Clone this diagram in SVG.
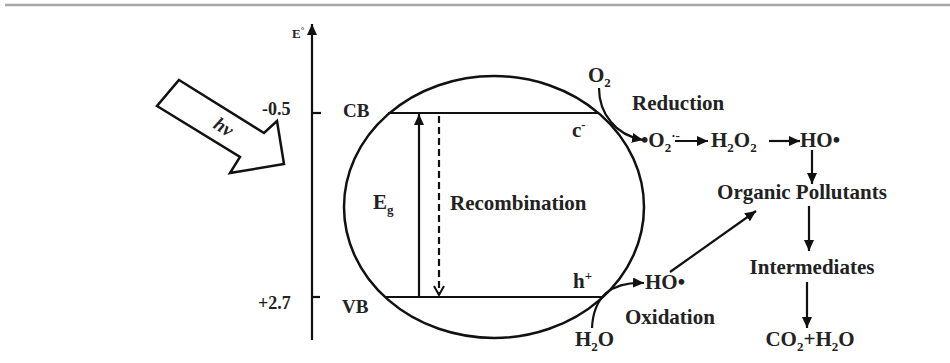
<svg xmlns="http://www.w3.org/2000/svg" width="950" height="363" viewBox="0 0 950 363">
<style>
  .t { font-family: "Liberation Serif", "Times New Roman", serif; font-weight: bold; fill: #222; }
  .lbl { font-size: 21px; }
  .sm { font-size: 18px; }
  .ln { stroke: #111; stroke-width: 2.2; fill: none; }
</style>
<defs>
  <marker id="ah" markerUnits="userSpaceOnUse" markerWidth="12" markerHeight="10" refX="11" refY="5" orient="auto">
    <path d="M0,0 L11,5 L0,10 Z" fill="#111"/>
  </marker>
  <marker id="ahv" markerUnits="userSpaceOnUse" markerWidth="12" markerHeight="12" refX="10" refY="6" orient="auto">
    <path d="M1,1 L10,6 L1,11" fill="none" stroke="#111" stroke-width="2"/>
  </marker>
</defs>
<rect width="950" height="363" fill="#fff"/>
<line x1="5" y1="5" x2="950" y2="5" stroke="#a8a8a8" stroke-width="2.5"/>

<g id="axis">
  <line class="ln" x1="312" y1="340" x2="312" y2="24" marker-end="url(#ah)"/>
  <line class="ln" x1="312" y1="113" x2="321" y2="113"/>
  <line class="ln" x1="312" y1="297" x2="320" y2="297"/>
  <text class="t" x="292" y="38" font-size="13">E<tspan dy="-5" font-size="9">°</tspan></text>
  <text class="t sm" x="262" y="115">-0.5</text>
  <text class="t sm" x="258" y="309">+2.7</text>
</g>

<g id="light">
  <polygon points="179,80 264,133 277,121 284,164 230,173 240,157 157,106" fill="#fff" stroke="#111" stroke-width="2.5" stroke-linejoin="miter"/>
  <text class="t" x="223" y="133" font-size="19" font-style="italic" font-weight="normal" text-anchor="middle" transform="rotate(32 223 128)">hv</text>
</g>

<g id="particle">
  <ellipse cx="494" cy="207" rx="150" ry="131" fill="none" stroke="#111" stroke-width="2.5"/>
</g>

<g id="CB">
  <line class="ln" x1="388" y1="113" x2="599" y2="113"/>
  <text class="t" x="343" y="117" font-size="19">CB</text>
  <text class="t lbl" x="572" y="137">c<tspan dy="-8" font-size="13">-</tspan></text>
</g>

<g id="VB">
  <line class="ln" x1="385" y1="297" x2="603" y2="297"/>
  <text class="t" x="342" y="313" font-size="19">VB</text>
  <text class="t lbl" x="573" y="288">h<tspan dy="-8" font-size="13">+</tspan></text>
</g>

<g id="Eg"><text class="t lbl" x="373" y="209">E<tspan dy="5" font-size="13">g</tspan></text></g>
<g id="recombination"><text class="t lbl" x="450" y="210">Recombination</text></g>
<g id="O2"><text class="t lbl" x="588" y="82">O<tspan dy="5" font-size="13">2</tspan></text></g>
<g id="reduction"><text class="t lbl" x="632" y="110">Reduction</text></g>
<g id="superoxide"><text class="t lbl" x="641" y="147">•O<tspan dy="5" font-size="13">2</tspan><tspan dy="-12" font-size="13">·-</tspan></text></g>
<g id="H2O2"><text class="t lbl" x="711" y="147">H<tspan dy="5" font-size="13">2</tspan><tspan dy="-5">O</tspan><tspan dy="5" font-size="13">2</tspan></text></g>
<g id="HO-red"><text class="t lbl" x="800" y="147">HO•</text></g>
<g id="organic"><text class="t lbl" x="802" y="199" text-anchor="middle">Organic Pollutants</text></g>
<g id="intermediates"><text class="t lbl" x="812" y="274" text-anchor="middle">Intermediates</text></g>
<g id="products"><text class="t lbl" x="810" y="346" text-anchor="middle">CO<tspan dy="5" font-size="13">2</tspan><tspan dy="-5">+H</tspan><tspan dy="5" font-size="13">2</tspan><tspan dy="-5">O</tspan></text></g>
<g id="HO-ox"><text class="t lbl" x="645" y="289">HO•</text></g>
<g id="oxidation"><text class="t lbl" x="625" y="324">Oxidation</text></g>
<g id="H2O"><text class="t lbl" x="575" y="346">H<tspan dy="5" font-size="13">2</tspan><tspan dy="-5">O</tspan></text></g>

<g id="connectors">
  <line class="ln" x1="419" y1="297" x2="419" y2="114" marker-end="url(#ah)"/>
  <line class="ln" x1="439" y1="116" x2="439" y2="295" stroke-dasharray="7 4" marker-end="url(#ahv)"/>
  <path class="ln" d="M599,88 Q599,108 611,122 Q622,136 643,140" marker-end="url(#ah)"/>
  <line class="ln" x1="675" y1="141" x2="708" y2="141" marker-end="url(#ah)"/>
  <line class="ln" x1="769" y1="141" x2="800" y2="141" marker-end="url(#ah)"/>
  <line class="ln" x1="812" y1="150" x2="812" y2="184" marker-end="url(#ah)"/>
  <line class="ln" x1="809" y1="206" x2="809" y2="251" marker-end="url(#ah)"/>
  <line class="ln" x1="807" y1="282" x2="807" y2="328" marker-end="url(#ah)"/>
  <path class="ln" d="M592,328 Q593,305 606,293 Q620,282 644,283" marker-end="url(#ah)"/>
  <line class="ln" x1="670" y1="272" x2="756" y2="211" marker-end="url(#ah)"/>
</g>
</svg>
